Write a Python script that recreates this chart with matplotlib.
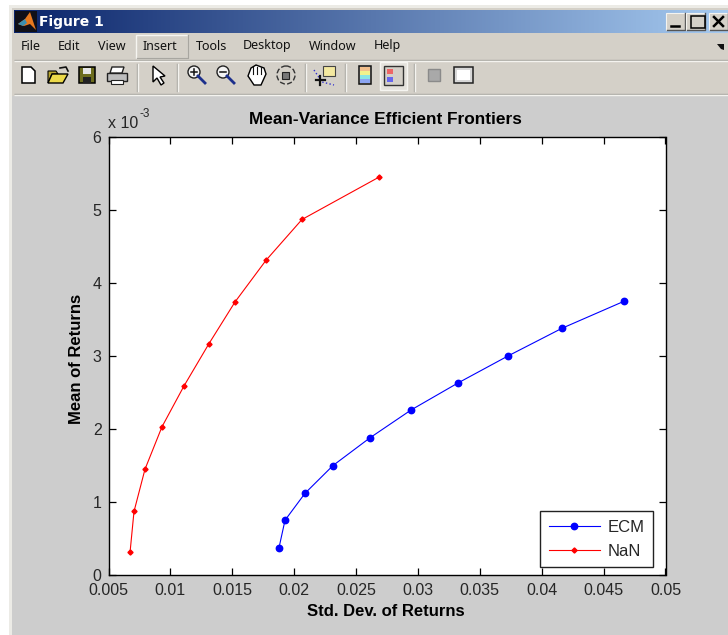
import numpy as np
import matplotlib
matplotlib.use("Agg")
import matplotlib.pyplot as plt
from matplotlib.patches import Rectangle, Circle, Polygon
from matplotlib.ticker import FixedLocator

# ----- Data -----
ecm_std  = [0.01877, 0.01926, 0.02088, 0.02314, 0.02613, 0.02944, 0.03323, 0.03727, 0.04164, 0.04665]
ecm_mean = [0.37, 0.75, 1.12, 1.50, 1.88, 2.26, 2.63, 3.00, 3.38, 3.75]
nan_std  = [0.00674, 0.00706, 0.00795, 0.00932, 0.0111, 0.01312, 0.01522, 0.01772, 0.02063, 0.02685]
nan_mean = [0.31, 0.87, 1.45, 2.03, 2.59, 3.17, 3.74, 4.31, 4.87, 5.45]
x_ticks  = [0.005, 0.01, 0.015, 0.02, 0.025, 0.03, 0.035, 0.04, 0.045, 0.05]
x_labels = ["0.005", "0.01", "0.015", "0.02", "0.025", "0.03", "0.035", "0.04", "0.045", "0.05"]
y_ticks  = [0, 1, 2, 3, 4, 5, 6]
menu_items = [("File", 21), ("Edit", 58), ("View", 98), ("Insert", 143), ("Tools", 196),
              ("Desktop", 243), ("Window", 309), ("Help", 374)]
# ----------------

W, H = 728, 635
GREY = "#cdcdcd"
FACE = "#d4d0c8"
TEXT = "#262626"
plt.rcParams["font.family"] = ["Liberation Sans", "DejaVu Sans"]


def rect(ax, x, y, w, h, fc="none", ec="none", lw=1.0, z=2):
    ax.add_patch(Rectangle((x, y), w, h, facecolor=fc, edgecolor=ec, linewidth=lw, zorder=z))


def hline(ax, x0, x1, y, c, lw=1.0):
    ax.plot([x0, x1], [y, y], color=c, lw=lw, zorder=2, solid_capstyle="butt")


def vsep(ax, x):
    ax.plot([x, x], [64, 91], color="#a8a6a0", lw=1.0, zorder=2)
    ax.plot([x + 1, x + 1], [64, 91], color="#f4f3ef", lw=1.0, zorder=2)


def draw_magnifier(ax, cx, cy, sign):
    ax.add_patch(Circle((cx - 2, cy - 3), 6, fc="#f4f4f4", ec="#222222", lw=1.0, zorder=3))
    ax.plot([cx + 2, cx + 9], [cy + 1, cy + 8], color="#1c2f8c", lw=2.0, zorder=3)
    ax.plot([cx - 5, cx + 1], [cy - 3, cy - 3], color="#111111", lw=1.1, zorder=4)
    if sign == "+":
        ax.plot([cx - 2, cx - 2], [cy - 6, cy], color="#111111", lw=1.1, zorder=4)


def draw_chrome(ax):
    ax.set_xlim(0, W)
    ax.set_ylim(H, 0)
    ax.axis("off")

    rect(ax, 0, 0, W, H, fc="#ffffff", z=0)
    rect(ax, 9, 5, W - 9, H - 5, fc="#ecebe6", z=0)
    rect(ax, 12, 8, W - 12, H - 8, fc=FACE, z=0)
    rect(ax, 12, 96, W - 12, H - 96, fc=GREY, z=1)

    # title bar
    t = np.linspace(0, 1, 256).reshape(1, -1, 1)
    start = np.array([10, 36, 106]) / 255
    stop = np.array([166, 202, 240]) / 255
    ax.imshow(start + t * (stop - start), extent=(14, W, 33, 10), aspect="auto", zorder=1)
    ax.set_xlim(0, W)
    ax.set_ylim(H, 0)

    rect(ax, 15, 11, 22, 21, fc="#101018", z=2)
    ax.add_patch(Polygon([(18, 24), (25, 19), (30, 12), (36, 30), (30, 24), (24, 26)],
                         fc="#e8791e", ec="none", zorder=3))
    ax.add_patch(Polygon([(18, 24), (25, 19), (27, 23), (23, 26)], fc="#3a8fb0", ec="none", zorder=4))
    ax.text(39, 22, "Figure 1", color="white", fontsize=10, fontweight="bold",
            family="DejaVu Sans", va="center", zorder=3)

    # window buttons
    for bx in (666, 686, 709):
        rect(ax, bx, 13, 19, 17, fc=FACE, ec="#f4f3ef", lw=0.8, z=3)
        ax.plot([bx + 0.5, bx + 19, bx + 19], [30, 30, 13], color="#555555", lw=1.0, zorder=3)
    ax.plot([671, 679], [26, 26], color="#000000", lw=1.8, zorder=4)
    rect(ax, 691, 16, 14, 12, ec="#000000", lw=1.1, z=4)
    ax.plot([714, 723], [17, 26], color="#000000", lw=1.8, zorder=4)
    ax.plot([714, 723], [26, 17], color="#000000", lw=1.8, zorder=4)

    # menu bar
    rect(ax, 136, 35, 52, 23, fc=FACE, ec="#f6f5f1", lw=1.0, z=2)
    ax.plot([137, 188, 188], [58, 58, 35], color="#a8a6a0", lw=1.0, zorder=2)
    for label, mx in menu_items:
        ax.text(mx, 46, label, fontsize=9, family=["Noto Sans", "DejaVu Sans"],
                color="#111111", va="center", zorder=3)
    ax.add_patch(Polygon([(717, 44), (724, 44), (724, 50), (721, 49)], fc="#111111", ec="none", zorder=3))
    hline(ax, 14, W, 59.5, "#a8a6a0")
    hline(ax, 14, W, 60.5, "#f4f3ef")

    # toolbar
    ax.add_patch(Polygon([(22, 67), (31, 67), (35, 71), (35, 83), (22, 83)],
                         fc="white", ec="black", lw=1.1, zorder=3))
    ax.add_patch(Polygon([(48, 83), (52, 74), (68, 74), (63, 83)], fc="#ecd94a", ec="black", lw=1.0, zorder=3))
    ax.add_patch(Polygon([(48, 83), (48, 71), (56, 71), (58, 74), (52, 74)], fc="#b8a530", ec="black", lw=0.8, zorder=2))
    ax.plot([60, 66, 68], [68, 67, 71], color="#111111", lw=1.2, zorder=3)
    rect(ax, 79, 67, 16, 16, fc="#6d6d1e", ec="black", lw=1.1, z=3)
    rect(ax, 83, 68, 8, 6, fc="#e6e6e6", z=4)
    rect(ax, 83, 77, 8, 6, fc="#222222", z=4)
    rect(ax, 107, 73, 20, 8, fc="#bdbdbd", ec="#222222", lw=1.0, z=3)
    ax.add_patch(Polygon([(112, 67), (124, 67), (122, 73), (110, 73)], fc="white", ec="#222222", lw=1.0, zorder=4))
    rect(ax, 111, 80, 12, 4, fc="white", ec="#222222", lw=0.8, z=4)
    vsep(ax, 137)
    ax.add_patch(Polygon([(153, 66), (153, 82), (157, 78), (161, 85), (164, 83), (160, 77), (165, 76)],
                         fc="white", ec="black", lw=1.0, zorder=3))
    vsep(ax, 177)
    draw_magnifier(ax, 196, 75, "+")
    draw_magnifier(ax, 225, 75, "-")
    ax.add_patch(Polygon([(248, 76), (251, 68), (256, 65), (264, 68), (266, 74), (261, 85), (254, 85)],
                         fc="white", ec="black", lw=1.0, zorder=3))
    for fx in (253, 257, 261):
        ax.plot([fx, fx], [67, 74], color="#111111", lw=0.8, zorder=4)
    ax.add_patch(Circle((286, 75), 9, fc="none", ec="#333333", lw=1.0, ls="--", zorder=3))
    rect(ax, 282, 72, 7, 7, fc="#777777", ec="#222222", lw=0.8, z=4)
    vsep(ax, 305)
    rect(ax, 323, 66, 12, 10, fc="#f4e9a0", ec="#444444", lw=0.8, z=3)
    ax.plot([316, 325], [80, 80], color="#111111", lw=1.6, zorder=4)
    ax.plot([320, 320], [76, 85], color="#111111", lw=1.6, zorder=4)
    ax.plot([314, 322, 334], [70, 82, 85], color="#3333cc", lw=1.0, ls=":", zorder=3)
    vsep(ax, 345)
    ax.imshow(np.array([[[0.95, 0.75, 0.55]], [[0.95, 0.95, 0.55]], [[0.55, 0.9, 0.9]], [[0.55, 0.65, 0.95]]]),
              extent=(360, 370, 83, 67), aspect="auto", zorder=3)
    ax.set_xlim(0, W)
    ax.set_ylim(H, 0)
    rect(ax, 359, 66, 12, 18, ec="#111111", lw=1.1, z=4)
    rect(ax, 380, 62, 27, 28, fc="#e4e2dc", ec="#f6f5f1", lw=1.0, z=2)
    rect(ax, 384, 66, 19, 19, fc=FACE, ec="#333333", lw=1.0, z=3)
    rect(ax, 387, 69, 6, 5, fc="#ee6666", z=4)
    rect(ax, 387, 77, 6, 5, fc="#6666ee", z=4)
    hline(ax, 396, 401, 71, "#333333")
    hline(ax, 396, 401, 79, "#333333")
    vsep(ax, 414)
    rect(ax, 428, 69, 12, 12, fc="#a9a9a9", ec="#8a8a8a", lw=1.0, z=3)
    rect(ax, 454, 67, 19, 16, fc="#d8d8d8", ec="#222222", lw=1.1, z=3)
    rect(ax, 457, 70, 13, 10, fc="white", z=4)
    hline(ax, 14, W, 94, "#a8a6a0")
    hline(ax, 14, W, 95, "#f4f3ef")


fig = plt.figure(figsize=(W / 100, H / 100), dpi=100)
chrome = fig.add_axes([0, 0, 1, 1], zorder=0)
draw_chrome(chrome)

# axes box runs from 108.5 to 665.5 across and 137 to 575 down
ax = fig.add_axes([108.5 / W, 1 - 575 / H, 557 / W, 438 / H], zorder=1)
ax.plot(ecm_std, ecm_mean, color="#0000ff", lw=0.8, marker="o", ms=4.6, label="ECM")
ax.plot(nan_std, nan_mean, color="#ff0000", lw=0.8, marker="D", ms=2.6, label="NaN")
ax.set_xlim(0.005, 0.05)
ax.set_ylim(0, 6)
ax.xaxis.set_major_locator(FixedLocator(x_ticks))
ax.set_xticklabels(x_labels)
ax.yaxis.set_major_locator(FixedLocator(y_ticks))
ax.tick_params(direction="in", top=True, right=True, length=5, width=0.9,
               labelsize=11.5, labelcolor=TEXT)
ax.tick_params(axis="x", pad=6)
ax.tick_params(axis="y", pad=5)
for spine in ax.spines.values():
    spine.set_linewidth(1.0)

ax.set_title("Mean-Variance Efficient Frontiers", fontsize=12.4, fontweight="bold", pad=9.5, x=0.497)
ax.set_xlabel("Std. Dev. of Returns", fontsize=12, fontweight="bold", labelpad=4, x=0.497)
ax.set_ylabel("Mean of Returns", fontsize=12, fontweight="bold", labelpad=6.5, y=0.494)
chrome.text(108, 123, "x 10", fontsize=11.5, color=TEXT, va="center", zorder=3)
chrome.text(139, 114, "-3", fontsize=8.5, color=TEXT, va="center", zorder=3)

leg = ax.legend(loc="lower right", bbox_to_anchor=(0.9776, 0.018), fontsize=12, fancybox=False,
                framealpha=1, edgecolor="#222222", borderaxespad=0, handlelength=3.1,
                labelspacing=0.55, borderpad=0.5, handletextpad=0.45)
leg.get_frame().set_linewidth(1.0)
for txt in leg.get_texts():
    txt.set_color(TEXT)

fig.savefig("out.png", dpi=100)
